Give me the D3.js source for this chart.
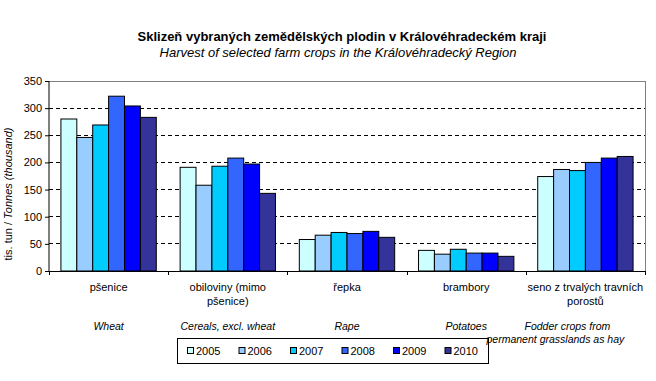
<!DOCTYPE html>
<html><head><meta charset="utf-8">
<script src="https://cdn.jsdelivr.net/npm/d3@7/dist/d3.min.js"></script>
<style>
body{margin:0;background:#fff;}
svg{display:block;font-family:"Liberation Sans",Arial,sans-serif;}
</style></head>
<body><svg id="c" width="656" height="381"></svg>
<script>
const categoriesCz = [["pšenice"],["obiloviny (mimo","pšenice)"],["řepka"],["brambory"],["seno z trvalých travních","porostů"]];
const categoriesEn = [["Wheat"],["Cereals, excl. wheat"],["Rape"],["Potatoes"],["Fodder crops from","permanent grasslands as hay"]];
const categories = ["wheat","cereals","rape","potatoes","fodder"];
const years = ["2005","2006","2007","2008","2009","2010"];
const v2005 = [280,191,58,38,174];
const v2006 = [246,158,66,31,187];
const v2007 = [269,193,71,40,185];
const v2008 = [322,208,69,33,200];
const v2009 = [304,197,73,33,208];
const v2010 = [283,143,62,27,211];
const yTicks = [0,50,100,150,200,250,300,350];
const colors = ["#CCFFFF","#99CCFF","#00CCFF","#3366FF","#0000FF","#333399"];
const series = [v2005,v2006,v2007,v2008,v2009,v2010];

const svg = d3.select("#c");
const L=49,R=645,T=81,B=271;
const x0 = d3.scaleBand().domain(categories).range([L,R]).padding(0);
const x1 = d3.scaleBand().domain(years).range([0,x0.bandwidth()]).paddingInner(0).paddingOuter(0.75);
const y = d3.scaleLinear().domain([0,350]).range([B,T]);
const color = d3.scaleOrdinal().domain(years).range(colors);

// title
svg.append("text").attr("x",342).attr("y",41).attr("text-anchor","middle")
  .attr("font-size","13px").attr("font-weight","bold").text("Sklizeň vybraných zemědělských plodin v Královéhradeckém kraji");
svg.append("text").attr("x",338).attr("y",57).attr("text-anchor","middle")
  .attr("font-size","13px").attr("font-style","italic").text("Harvest of selected farm crops in the Královéhradecký Region");

// gridlines
svg.append("g").selectAll("line").data(yTicks.filter(t=>t>0&&t<350)).join("line")
  .attr("x1",L).attr("x2",R).attr("y1",d=>y(d)).attr("y2",d=>y(d))
  .attr("stroke","#000").attr("stroke-dasharray","4,3").attr("stroke-width",1).attr("shape-rendering","crispEdges");
// frame top/right
svg.append("path").attr("d",`M${L},${T+0.5}H${R+0.5}V${B}`).attr("fill","none").attr("stroke","#808080").attr("shape-rendering","crispEdges");

// bars
const g = svg.append("g");
categories.forEach((c,ci)=>{
  years.forEach((yr,yi)=>{
    const v = series[yi][ci];
    g.append("rect").attr("x",x0(c)+x1(yr)).attr("width",x1.bandwidth())
      .attr("y",y(v)).attr("height",y(0)-y(v))
      .attr("fill",color(yr)).attr("stroke","#000").attr("stroke-width",1);
  });
});

// y axis
const ya = svg.append("g").attr("transform",`translate(${L},0)`)
  .call(d3.axisLeft(y).tickValues(yTicks).tickSize(4).tickPadding(3));
ya.selectAll("text").attr("font-size","11px").attr("font-family","Liberation Sans, Arial, sans-serif").attr("fill","#000");
ya.selectAll("line").attr("stroke","#000");
ya.select(".domain").attr("stroke","#000").attr("d",`M0,${T}V${B}`);

// x axis
svg.append("line").attr("x1",L).attr("x2",R+1).attr("y1",B+0.5).attr("y2",B+0.5).attr("stroke","#000");
const bounds = categories.map(c=>x0(c)).concat([R]);
svg.append("g").selectAll("line").data(bounds).join("line")
  .attr("x1",d=>Math.round(d)+0.5).attr("x2",d=>Math.round(d)+0.5).attr("y1",B).attr("y2",B+4).attr("stroke","#000");

// legend
const lg = svg.append("g");
lg.append("rect").attr("x",177.5).attr("y",338.5).attr("width",311).attr("height",25).attr("fill","#fff").attr("stroke","#000");
years.forEach((yr,i)=>{
  const lx = 187 + i*51.5;
  lg.append("rect").attr("x",lx+0.5).attr("y",347.5).attr("width",6).attr("height",6).attr("fill",color(yr)).attr("stroke","#000");
  lg.append("text").attr("x",lx+9).attr("y",355).attr("font-size","11px").text(yr);
});

// category labels (last English block is pulled left to stay inside the chart, as in the reference)
const enShift = [[0],[0],[0],[0],[-18,-30]];
categories.forEach((c,ci)=>{
  const cx = x0(c)+x0.bandwidth()/2;
  const t = svg.append("text").attr("text-anchor","middle").attr("font-size","11px");
  categoriesCz[ci].forEach((line,li)=>t.append("tspan").attr("x",cx).attr("y",291+li*14).text(line));
  const e = svg.append("text").attr("text-anchor","middle").attr("font-size","10.5px").attr("font-style","italic");
  categoriesEn[ci].forEach((line,li)=>e.append("tspan").attr("x",cx+enShift[ci][li]).attr("y",330+li*13).text(line));
});

// y title
const yt = svg.append("text").attr("transform","translate(12,194) rotate(-90)").attr("text-anchor","middle").attr("font-size","11px");
yt.append("tspan").text("tis. tun / ");
yt.append("tspan").attr("font-style","italic").text("Tonnes (thousand)");
</script></body></html>
